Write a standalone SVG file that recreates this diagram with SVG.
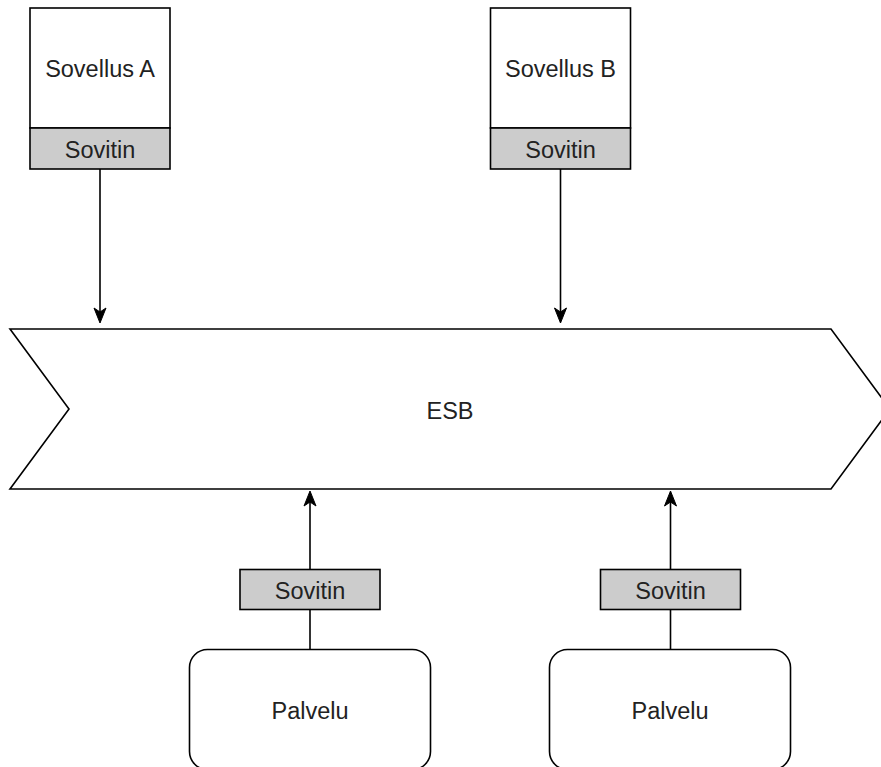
<svg xmlns="http://www.w3.org/2000/svg" width="881" height="767" viewBox="0 0 881 767">
  <style>
    .box { fill: #ffffff; stroke: #000000; stroke-width: 1.6; }
    .adapter { fill: #cccccc; stroke: #000000; stroke-width: 1.6; }
    .label { font-family: "Liberation Sans", Arial, sans-serif; font-size: 23.5px; fill: #222222; text-anchor: middle; }
    .edge { fill: none; stroke: #000000; stroke-width: 1.6; }
  </style>
  <defs>
    <marker id="arrow" viewBox="-10 -7 17 14" refX="0" refY="0" markerWidth="17" markerHeight="14" markerUnits="userSpaceOnUse" orient="auto">
      <path d="M6,0 L-9,-6 L-5,0 L-9,6 Z" fill="#000000" stroke="#000000" stroke-width="1" stroke-linejoin="miter"/>
    </marker>
  </defs>

  <rect width="881" height="767" fill="#ffffff"/>

  <!-- Enterprise service bus -->
  <g id="esb">
    <polygon class="box" points="10,329 831,329 890,409 831,489 10,489 69,409"/>
    <text class="label" x="450" y="419">ESB</text>
  </g>

  <!-- Application A with its adapter -->
  <g id="app-a">
    <rect class="box" x="30" y="8" width="140" height="120"/>
    <rect class="adapter" x="30" y="128" width="140" height="41"/>
    <text class="label" x="100" y="77">Sovellus A</text>
    <text class="label" x="100" y="158">Sovitin</text>
  </g>

  <!-- Application B with its adapter -->
  <g id="app-b">
    <rect class="box" x="490.5" y="8" width="140" height="120"/>
    <rect class="adapter" x="490.5" y="128" width="140" height="41"/>
    <text class="label" x="560.5" y="77">Sovellus B</text>
    <text class="label" x="560.5" y="158">Sovitin</text>
  </g>

  <!-- Service adapters -->
  <g id="adapter-1">
    <rect class="adapter" x="240" y="569.5" width="140" height="40"/>
    <text class="label" x="310" y="599">Sovitin</text>
  </g>
  <g id="adapter-2">
    <rect class="adapter" x="600.5" y="569.5" width="140" height="40"/>
    <text class="label" x="670.5" y="599">Sovitin</text>
  </g>

  <!-- Services -->
  <g id="service-1">
    <rect class="box" x="189.5" y="649.5" width="241" height="120" rx="18" ry="18"/>
    <text class="label" x="310" y="719">Palvelu</text>
  </g>
  <g id="service-2">
    <rect class="box" x="549.5" y="649.5" width="241" height="120" rx="18" ry="18"/>
    <text class="label" x="670" y="719">Palvelu</text>
  </g>

  <!-- Connectors -->
  <g id="connectors">
    <line class="edge" x1="100" y1="169" x2="100" y2="317" marker-end="url(#arrow)"/>
    <line class="edge" x1="560.5" y1="169" x2="560.5" y2="317" marker-end="url(#arrow)"/>
    <line class="edge" x1="310" y1="569.5" x2="310" y2="497" marker-end="url(#arrow)"/>
    <line class="edge" x1="670.5" y1="569.5" x2="670.5" y2="497" marker-end="url(#arrow)"/>
    <line class="edge" x1="310" y1="609.5" x2="310" y2="649.5"/>
    <line class="edge" x1="670.5" y1="609.5" x2="670.5" y2="649.5"/>
  </g>
</svg>
